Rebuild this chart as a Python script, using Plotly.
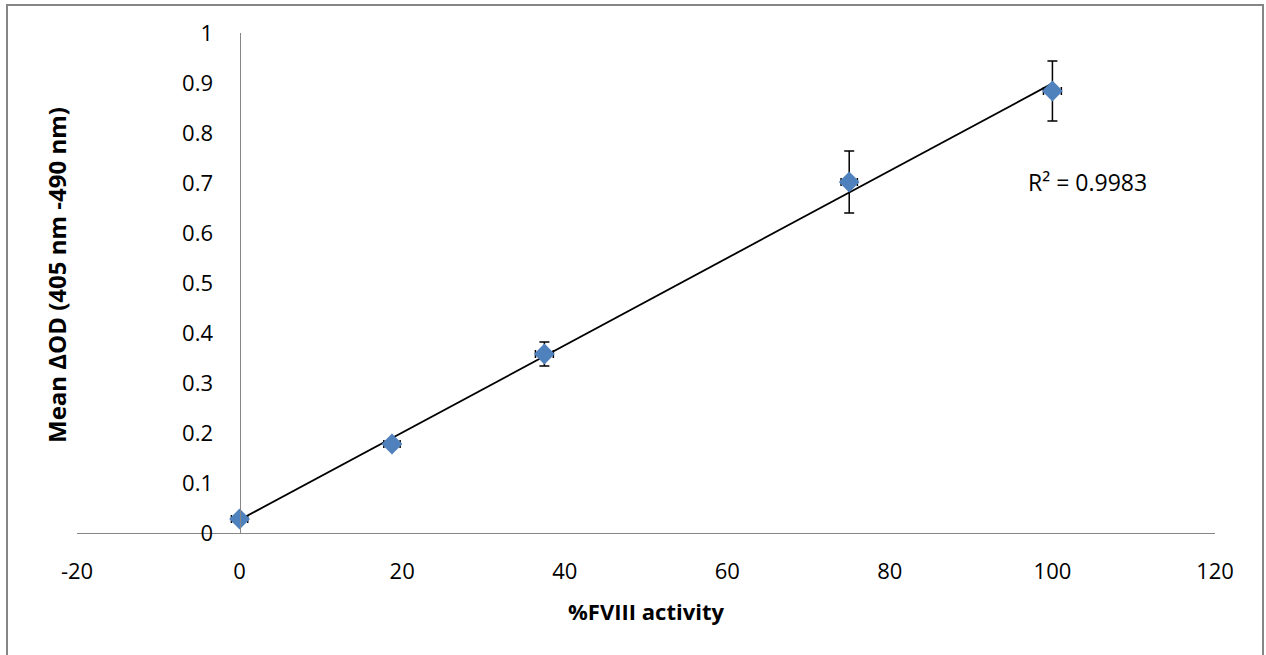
import numpy as np
import plotly.graph_objects as go

fviii_activity = [0, 18.75, 37.5, 75, 100]
mean_delta_od = [0.028, 0.178, 0.358, 0.702, 0.884]
od_error = [0.006, 0.008, 0.024, 0.062, 0.060]
activity_error = [1.0, 1.0, 1.1, 1.0, 1.1]
r2_label = "R² = 0.9983"
x_ticks = [-20, 0, 20, 40, 60, 80, 100, 120]
x_tick_text = ["-20", "0", "20", "40", "60", "80", "100", "120"]
y_ticks = [0, 0.1, 0.2, 0.3, 0.4, 0.5, 0.6, 0.7, 0.8, 0.9, 1]

W, H = 1266, 655
L, R, T, B = 77, 1215, 33, 533

slope, intercept = np.polyfit(fviii_activity, mean_delta_od, 1)
fit_x = [min(fviii_activity), max(fviii_activity)]
fit_y = [slope * v + intercept for v in fit_x]

font = "Open Sans"
fig = go.Figure()
fig.add_trace(go.Scatter(x=fit_x, y=fit_y, mode="lines",
                         line=dict(color="black", width=1.8), showlegend=False, hoverinfo="skip"))
fig.add_trace(go.Scatter(
    x=fviii_activity, y=mean_delta_od, mode="markers",
    marker=dict(symbol="diamond", size=16, color="#4F81BD", line=dict(width=0)),
    error_y=dict(type="data", array=od_error, color="black", thickness=1.5, width=5),
    error_x=dict(type="data", array=activity_error, color="black", thickness=1.5, width=4),
    showlegend=False))

ypos = (0 - (-20)) / 140.0
px_per_unit = (R - L) / 140.0
fig.update_layout(
    width=W, height=H,
    margin=dict(l=L, r=W - R, t=T, b=H - B, pad=0),
    paper_bgcolor="white", plot_bgcolor="white",
    font=dict(family=font, size=22, color="black"),
    xaxis=dict(range=[-20, 120], tickvals=x_ticks, ticktext=x_tick_text,
               showgrid=False, zeroline=False,
               showline=True, linecolor="#868686", linewidth=1.3, ticks="",
               ticklabelstandoff=18,
               title=dict(text="<b>%FVIII activity</b>", font=dict(size=22), standoff=21)),
    yaxis=dict(range=[0, 1], tickvals=y_ticks, ticktext=[("%g" % v) for v in y_ticks],
               showgrid=False, zeroline=False,
               anchor="free", position=ypos, domain=[0, 1],
               showline=True, linecolor="#868686", linewidth=1.3, ticks="",
               ticklabelstandoff=22),
    shapes=[dict(type="rect", xref="paper", yref="paper",
                 x0=(7 - L) / (R - L), x1=(1263 - L) / (R - L),
                 y0=(B - 680) / (B - T), y1=(B - 5) / (B - T),
                 line=dict(color="#868686", width=2), fillcolor="rgba(0,0,0,0)")],
    annotations=[
        dict(text=r2_label, x=-20 + (1087 - L) / px_per_unit,
             y=(B - 182) / (B - T), xref="x", yref="y", showarrow=False,
             font=dict(size=23), xanchor="center", yanchor="middle"),
        dict(text="<b>Mean ΔOD (405 nm -490 nm)</b>", textangle=-90,
             xref="paper", yref="paper", x=(56 - L) / (R - L), y=(B - 275) / (B - T),
             showarrow=False, font=dict(size=24), xanchor="center", yanchor="middle"),
    ],
)
fig.write_html("out.html")
